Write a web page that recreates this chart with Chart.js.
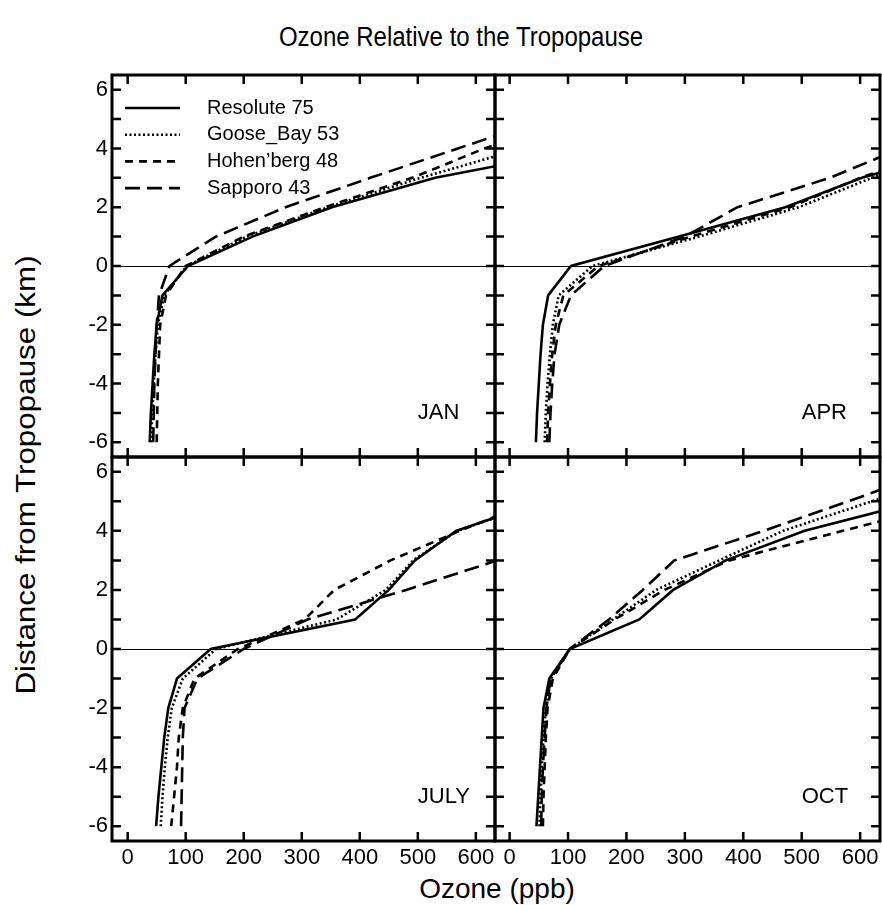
<!DOCTYPE html>
<html lang="en">
<head>
<meta charset="UTF-8">
<title>Ozone Relative to the Tropopause</title>
<script src="https://cdn.jsdelivr.net/npm/chart.js@4.4.0/dist/chart.umd.min.js"></script>
<style>
  html, body { margin: 0; background: #fff; overflow: hidden; }
  #wrap { position: relative; width: 882px; height: 905px; font-family: "Liberation Sans", Arial, sans-serif; color: #000; }
  #wrap canvas { position: absolute; }
  .txt { position: absolute; white-space: nowrap; line-height: 1; }
  #title { left: 461px; top: 37px; font-size: 24px; transform: translate(-50%, -50%) scaleY(1.15); }
  #ytitle { left: 26px; top: 475px; font-size: 28px; transform: translate(-50%, -50%) rotate(-90deg) scaleX(1.12); }
  #xtitle { left: 497px; top: 889px; font-size: 28px; transform: translate(-50%, -50%); }
</style>
</head>
<body>
<div id="wrap">
  <div class="txt" id="title">Ozone Relative to the Tropopause</div>
  <div class="txt" id="ytitle">Distance from Tropopause (km)</div>
  <div class="txt" id="xtitle">Ozone (ppb)</div>
  <canvas id="jan"></canvas>
  <canvas id="apr"></canvas>
  <canvas id="jul"></canvas>
  <canvas id="oct"></canvas>
</div>

<script>
// Heights relative to the tropopause (km), shared by every profile
const heights = [-6, -5, -4, -3, -2, -1, 0, 1, 2, 3, 4, 5, 6];

const stations = ['Resolute 75', 'Goose_Bay 53', 'Hohen\u2019berg 48', 'Sapporo 43'];

// Ozone (ppb) at each height
const janResolute = [38, 40, 43, 46, 50, 60, 104, 215, 352, 530, 790, 980, 1200];
const janGoose    = [40, 42, 45, 48, 52, 63, 102, 205, 345, 505, 680, 870, 1050];
const janHohen    = [50, 51, 52, 54, 56, 66, 100, 200, 340, 490, 615, 760, 900];
const janSapporo  = [44, 45, 46, 48, 50, 54, 72, 152, 272, 418, 569, 720, 870];

const aprResolute = [45, 47, 50, 53, 57, 66, 105, 290, 472, 603, 780, 950, 1120];
const aprGoose    = [60, 62, 65, 69, 74, 84, 142, 324, 495, 620, 780, 940, 1100];
const aprHohen    = [64, 66, 69, 73, 79, 92, 152, 310, 480, 600, 750, 900, 1050];
const aprSapporo  = [68, 70, 73, 77, 85, 105, 162, 300, 390, 548, 670, 850, 1000];

const julResolute = [49, 53, 58, 63, 70, 85, 143, 392, 450, 495, 566, 715, 860];
const julGoose    = [57, 60, 64, 69, 76, 95, 152, 360, 445, 492, 568, 715, 860];
const julHohen    = [75, 80, 85, 88, 95, 115, 190, 305, 356, 453, 572, 700, 840];
const julSapporo  = [92, 93, 94, 95, 98, 120, 200, 310, 480, 637, 800, 960, 1120];

const octResolute = [46, 49, 52, 55, 58, 68, 103, 222, 280, 370, 505, 700, 880];
const octGoose    = [51, 53, 55, 58, 62, 71, 103, 177, 251, 359, 468, 620, 780];
const octHohen    = [57, 58, 60, 62, 65, 74, 103, 180, 265, 376, 570, 770, 960];
const octSapporo  = [54, 55, 57, 60, 63, 70, 103, 170, 228, 282, 435, 580, 720];

// Tick values
const xTicks = [0, 100, 200, 300, 400, 500, 600];
const yLabelTicks = [-6, -4, -2, 0, 2, 4, 6];
const yMarkTicks = [-6, -5, -4, -3, -2, -1, 0, 1, 2, 3, 4, 5, 6];

// line dash per station: solid, dotted, short dash, long dash
const dashes = [[], [2, 2.5], [8, 6], [15, 7]];

const FONT = '"Liberation Sans", Arial, sans-serif';

// frame, inward ticks, zero line, month label and legend
const framePlugin = {
  id: 'frame',
  afterDatasetsDraw(chart, args, opts) {
    const { ctx, chartArea: a, scales: { x, y } } = chart;
    ctx.save();
    ctx.strokeStyle = '#000';
    ctx.fillStyle = '#000';
    ctx.lineCap = 'butt';

    const y0 = Math.round(y.getPixelForValue(0)) + 0.5;
    ctx.lineWidth = 1;
    ctx.beginPath();
    ctx.moveTo(a.left, y0);
    ctx.lineTo(a.right, y0);
    ctx.stroke();

    ctx.lineWidth = 2.5;
    ctx.beginPath();
    xTicks.forEach(v => {
      const px = x.getPixelForValue(v);
      ctx.moveTo(px, a.bottom); ctx.lineTo(px, a.bottom - 9);
      ctx.moveTo(px, a.top); ctx.lineTo(px, a.top + 9);
    });
    yMarkTicks.forEach(v => {
      const py = y.getPixelForValue(v);
      ctx.moveTo(a.left, py); ctx.lineTo(a.left + 9, py);
      ctx.moveTo(a.right, py); ctx.lineTo(a.right - 9, py);
    });
    ctx.stroke();

    ctx.lineWidth = 3;
    ctx.strokeRect(a.left, a.top, a.right - a.left, a.bottom - a.top);

    ctx.font = '22px ' + FONT;
    ctx.textAlign = 'left';
    ctx.textBaseline = 'middle';
    ctx.fillText(opts.month, x.getPixelForValue(500), y.getPixelForValue(-5));

    if (opts.legend) {
      ctx.font = '20px ' + FONT;
      chart.data.datasets.forEach((ds, i) => {
        const ly = a.top + 33 + 26.7 * i;
        ctx.lineWidth = ds.borderWidth;
        ctx.setLineDash(ds.borderDash);
        ctx.beginPath();
        ctx.moveTo(a.left + 13, ly);
        ctx.lineTo(a.left + 68, ly);
        ctx.stroke();
        ctx.setLineDash([]);
        ctx.fillText(ds.label, a.left + 95, ly);
      });
    }
    ctx.restore();
  }
};

function profile(values) {
  return values.map((v, i) => ({ x: v, y: heights[i] }));
}

function noPadding(s) {
  s.paddingTop = 0; s.paddingBottom = 0; s.paddingLeft = 0; s.paddingRight = 0;
}

function makePanel(id, month, series, box) {
  const canvas = document.getElementById(id);
  const w = box.axisW + (box.right - box.left) + box.padRight;
  const h = box.padTop + (box.bottom - box.top) + box.axisH;
  canvas.width = w;
  canvas.height = h;
  canvas.style.left = (box.left - box.axisW) + 'px';
  canvas.style.top = (box.top - box.padTop) + 'px';

  new Chart(canvas, {
    type: 'scatter',
    data: {
      datasets: series.map((vals, i) => ({
        label: stations[i],
        data: profile(vals),
        showLine: true,
        borderColor: '#000',
        borderWidth: 2.6,
        borderDash: dashes[i],
        pointRadius: 0,
        tension: 0,
        fill: false
      }))
    },
    options: {
      responsive: false,
      animation: false,
      events: [],
      layout: { padding: { top: box.padTop, right: box.padRight, left: 0, bottom: 0 } },
      plugins: {
        legend: { display: false },
        tooltip: { enabled: false },
        frame: { month: month, legend: box.legend }
      },
      scales: {
        x: {
          type: 'linear',
          min: box.xMin,
          max: box.xMax,
          afterBuildTicks: s => { s.ticks = xTicks.map(v => ({ value: v })); },
          afterFit: s => { s.height = box.axisH; noPadding(s); },
          grid: { display: false, drawTicks: false },
          border: { display: false },
          ticks: { display: box.xLabels, color: '#000', padding: 4, maxRotation: 0, font: { family: FONT, size: 22 } }
        },
        y: {
          type: 'linear',
          min: -6.5,
          max: 6.5,
          afterBuildTicks: s => { s.ticks = yLabelTicks.map(v => ({ value: v })); },
          afterFit: s => { s.width = box.axisW; noPadding(s); },
          grid: { display: false, drawTicks: false },
          border: { display: false },
          ticks: { display: box.yLabels, color: '#000', padding: 4, font: { family: FONT, size: 22 } }
        }
      }
    },
    plugins: [framePlugin]
  });
}

makePanel('jan', 'JAN', [janResolute, janGoose, janHohen, janSapporo],
  { left: 112, right: 495, top: 75, bottom: 457, axisW: 60, axisH: 6, padTop: 6, padRight: 6,
    xMin: -27, xMax: 633, xLabels: false, yLabels: true, legend: true });
makePanel('apr', 'APR', [aprResolute, aprGoose, aprHohen, aprSapporo],
  { left: 495, right: 880, top: 75, bottom: 457, axisW: 6, axisH: 6, padTop: 6, padRight: 4,
    xMin: -25, xMax: 634, xLabels: false, yLabels: false, legend: false });
makePanel('jul', 'JULY', [julResolute, julGoose, julHohen, julSapporo],
  { left: 112, right: 495, top: 457, bottom: 841, axisW: 60, axisH: 40, padTop: 6, padRight: 6,
    xMin: -27, xMax: 633, xLabels: true, yLabels: true, legend: false });
makePanel('oct', 'OCT', [octResolute, octGoose, octHohen, octSapporo],
  { left: 495, right: 880, top: 457, bottom: 841, axisW: 6, axisH: 40, padTop: 6, padRight: 4,
    xMin: -25, xMax: 634, xLabels: true, yLabels: false, legend: false });
</script>
</body>
</html>
